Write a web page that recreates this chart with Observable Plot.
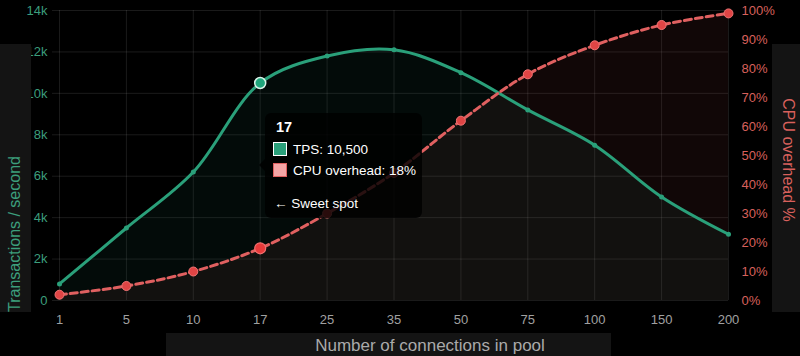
<!DOCTYPE html>
<html>
<head>
<meta charset="utf-8">
<script src="https://cdn.jsdelivr.net/npm/d3@7"></script>
<script src="https://cdn.jsdelivr.net/npm/@observablehq/plot@0.6"></script>
<style>
  html, body { margin: 0; padding: 0; background: #000; overflow: hidden; }
  #wrap { position: relative; width: 800px; height: 356px; font-family: "Liberation Sans", Arial, Helvetica, sans-serif; }
  #chart svg { display: block; }
  .panel { position: absolute; background: #141414; }
  .title { position: absolute; white-space: nowrap; font-size: 16px; line-height: 1; }
  #tip { position: absolute; left: 265px; top: 113px; width: 157px; height: 105px; background: rgba(0,0,0,0.82); border-radius: 6px; color: #fff; font-size: 13.5px; }
  #tip::before { content: ""; position: absolute; left: -6px; top: 46px; border-top: 6px solid transparent; border-bottom: 6px solid transparent; border-right: 6px solid rgba(0,0,0,0.82); }
  #tip .row { position: absolute; left: 28px; white-space: nowrap; line-height: 1; }
  #tip .sw { position: absolute; left: 8px; width: 12px; height: 12px; }
</style>
</head>
<body>
<div id="wrap">
  <div id="chart"></div>
</div>
<script>
// ---- data ----
const connections = ["1", "5", "10", "17", "25", "35", "50", "75", "100", "150", "200"];
const tps = [800, 3500, 6200, 10500, 11800, 12100, 11000, 9200, 7500, 5000, 3200];
const cpuPct = [2, 5, 10, 18, 30, 44, 62, 78, 88, 95, 99];
const tpsTicks = [0, 2000, 4000, 6000, 8000, 10000, 12000, 14000];
const cpuTicks = [0, 10, 20, 30, 40, 50, 60, 70, 80, 90, 100];
const highlightIndex = 3;
const tipNote = "← Sweet spot";
const xTitle = "Number of connections in pool";
const yLeftTitle = "Transactions / second";
const yRightTitle = "CPU overhead %";

// ---- build ----
const TPS_MAX = 14000;
const cpuToY = v => v / 100 * TPS_MAX;
const rows = connections.map((c, i) => ({c, tps: tps[i], cpu: cpuPct[i], cpuY: cpuToY(cpuPct[i])}));

const GREEN = "#2aa07a";
const RED = "#e06060";
const GRID = "#ffffff";

const plot = Plot.plot({
  width: 800,
  height: 356,
  marginLeft: 59,
  marginRight: 72,
  marginTop: 10,
  marginBottom: 56,
  style: {background: "#000", color: "#999", fontFamily: "'Liberation Sans', Arial, sans-serif", fontSize: "13px"},
  x: {type: "point", domain: connections, range: [59, 728], padding: 0, round: false, label: null},
  y: {domain: [0, TPS_MAX], range: [300, 10], label: null},
  marks: [
    Plot.gridY(tpsTicks, {stroke: GRID, strokeOpacity: 0.1}),
    Plot.gridX({stroke: GRID, strokeOpacity: 0.1}),
    Plot.areaY(rows, {x: "c", y: "cpuY", curve: "catmull-rom", fill: RED, fillOpacity: 0.075}),
    Plot.areaY(rows, {x: "c", y: "tps", curve: "catmull-rom", fill: GREEN, fillOpacity: 0.07}),
    Plot.lineY(rows, {x: "c", y: "tps", curve: "catmull-rom", stroke: GREEN, strokeWidth: 3}),
    Plot.dot(rows, {x: "c", y: "tps", r: 2.5, fill: GREEN}),
    Plot.lineY(rows, {x: "c", y: "cpuY", curve: "catmull-rom", stroke: RED, strokeWidth: 3, strokeDasharray: "7,4"}),
    Plot.dot(rows, {x: "c", y: "cpuY", r: 4.5, fill: "#e04545", stroke: "#f07575", strokeWidth: 1}),
    Plot.dot([rows[highlightIndex]], {x: "c", y: "tps", r: 5.5, fill: "#1fa57b", stroke: "#d8f2e8", strokeWidth: 1.5}),
    Plot.dot([rows[highlightIndex]], {x: "c", y: "cpuY", r: 5.5, fill: "#e83a3a", stroke: "#f27070", strokeWidth: 1.2}),
    Plot.axisY(tpsTicks, {anchor: "left", tickSize: 7, tickPadding: 5, stroke: GRID, strokeOpacity: 0.1, fill: "#3c9e7c", fontSize: 13,
      tickFormat: d => d === 0 ? "0" : (d / 1000) + "k", label: null}),
    Plot.axisY(cpuTicks.map(cpuToY), {anchor: "right", tickSize: 0, tickPadding: 13, fill: "#d8605c", fontSize: 13,
      tickFormat: d => Math.round(d / TPS_MAX * 100) + "%", label: null}),
    Plot.axisX({tickSize: 0, tickPadding: 14, fill: "#a0a0a0", fontSize: 13, label: null})
  ]
});
document.getElementById("chart").appendChild(plot);

// ---- titles and panels ----
const wrap = document.getElementById("wrap");
function add(html) { wrap.insertAdjacentHTML("beforeend", html); }
add(`<div class="panel" style="left:0;top:44px;width:31px;height:268px"></div>`);
add(`<div class="panel" style="left:772px;top:44px;width:28px;height:268px"></div>`);
add(`<div class="panel" style="left:166px;top:333px;width:445px;height:23px"></div>`);
add(`<div class="title" style="left:15px;top:234px;color:#3c9e7c;transform:translate(-50%,-50%) rotate(-90deg)">${yLeftTitle}</div>`);
add(`<div class="title" style="left:788px;top:160px;color:#d8605c;transform:translate(-50%,-50%) rotate(90deg)">${yRightTitle}</div>`);
add(`<div class="title" style="left:430px;top:345px;color:#aaa;font-size:17px;transform:translate(-50%,-50%)">${xTitle}</div>`);

// ---- tooltip ----
const h = rows[highlightIndex];
add(`<div id="tip">
  <div class="row" style="left:11px;top:7px;font-weight:bold;font-size:14.5px">${h.c}</div>
  <div class="sw" style="top:29px;background:${GREEN};border:1.5px solid #fff"></div>
  <div class="row" style="top:30px">TPS: ${d3.format(",")(h.tps)}</div>
  <div class="sw" style="top:50px;background:#f4a6a6;border:1.5px solid #e06060"></div>
  <div class="row" style="top:51px">CPU overhead: ${h.cpu}%</div>
  <div class="row" style="left:9px;top:84px">${tipNote}</div>
</div>`);
</script>
</body>
</html>
